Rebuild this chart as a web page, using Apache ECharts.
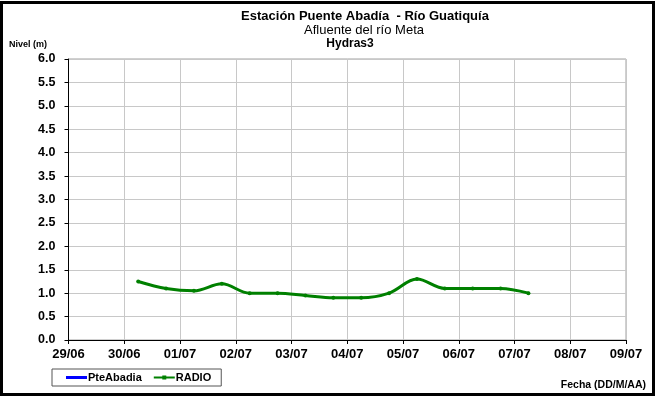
<!DOCTYPE html>
<html>
<head>
<meta charset="utf-8">
<script src="https://cdn.jsdelivr.net/npm/echarts@6/dist/echarts.min.js"></script>
<style>
html,body{margin:0;padding:0;background:#fff;}
#c{width:656px;height:396px;}
</style>
</head>
<body>
<div id="c"></div>
<script>
// ---- data ----
const xTickLabels = ['29/06','30/06','01/07','02/07','03/07','04/07','05/07','06/07','07/07','08/07','09/07'];
const radioTimes = [
  '2014-06-30T06:00','2014-06-30T18:00','2014-07-01T06:00','2014-07-01T18:00',
  '2014-07-02T06:00','2014-07-02T18:00','2014-07-03T06:00','2014-07-03T18:00',
  '2014-07-04T06:00','2014-07-04T18:00','2014-07-05T06:00','2014-07-05T18:00',
  '2014-07-06T06:00','2014-07-06T18:00','2014-07-07T06:00'
];
const radioValues = [1.25, 1.10, 1.05, 1.20, 1.00, 1.00, 0.95, 0.90, 0.90, 1.00, 1.30, 1.10, 1.10, 1.10, 1.00];
const pteAbadiaValues = [];
const yMin = 0, yMax = 6, yStep = 0.5;

const DAY = 86400000;
const xMin = Date.UTC(2014, 5, 29);
const xMax = Date.UTC(2014, 6, 9);
const toMs = s => Date.parse(s + ':00Z');
const radioData = radioTimes.map((t, i) => [toMs(t), radioValues[i]]);

// legend icons (box 21 x 5): tiny corner specks keep both boxes identical
const corners = 'M0,0 L0.01,0 L0,0.01 Z M21,5 L20.99,5 L21,4.99 Z ';
const iconLine = 'path://' + corners + 'M0,1 L21,1 L21,4 L0,4 Z';
const iconLineDot = 'path://' + corners + 'M0,1.5 L21,1.5 L21,3.5 L0,3.5 Z M8.5,0.5 L12.5,0.5 L12.5,4.5 L8.5,4.5 Z';

const FONT = '"Liberation Sans", Arial, sans-serif';
const chart = echarts.init(document.getElementById('c'), null, {renderer: 'canvas'});
chart.setOption({
  backgroundColor: '#ffffff',
  animation: false,
  textStyle: {fontFamily: FONT},
  title: [
    {text: 'Estación Puente Abadía  - Río Guatiquía', left: 365, top: 10, textAlign: 'center',
     textStyle: {fontFamily: FONT, fontSize: 13, fontWeight: 'bold', color: '#000'}, padding: 0},
    {text: 'Afluente del río Meta', left: 364, top: 24, textAlign: 'center',
     textStyle: {fontFamily: FONT, fontSize: 13, fontWeight: 'normal', color: '#000'}, padding: 0},
    {text: 'Hydras3', left: 350, top: 38, textAlign: 'center',
     textStyle: {fontFamily: FONT, fontSize: 12, fontWeight: 'bold', color: '#000'}, padding: 0},
    {text: 'Nivel (m)', left: 9, top: 40,
     textStyle: {fontFamily: FONT, fontSize: 9, fontWeight: 'bold', color: '#000'}, padding: 0},
    {text: 'Fecha (DD/M/AA)', right: 10, top: 380,
     textStyle: {fontFamily: FONT, fontSize: 10.5, fontWeight: 'bold', color: '#000'}, padding: 0}
  ],
  grid: {left: 68.5, right: 30, top: 59, bottom: 56, containLabel: false,
         show: true, borderColor: '#a0a0a0', borderWidth: 1},
  legend: {
    left: 52, top: 369,
    padding: [3, 10, 3, 14],
    itemGap: 12, itemWidth: 21, itemHeight: 5,
    borderColor: '#555', borderWidth: 1,
    textStyle: {fontFamily: FONT, fontSize: 11, fontWeight: 'bold', color: '#000', padding: [0,0,0,-4]},
    data: [
      {name: 'PteAbadia', icon: iconLine, itemStyle: {color: '#0000ff'}},
      {name: 'RADIO', icon: iconLineDot, itemStyle: {color: '#008000'}}
    ]
  },
  xAxis: {
    type: 'value', min: xMin, max: xMax, interval: DAY,
    axisLine: {lineStyle: {color: '#000', width: 1}},
    axisTick: {show: true, length: 4, lineStyle: {color: '#000'}},
    splitLine: {show: true, lineStyle: {color: '#c8c8c8', width: 1}},
    axisLabel: {
      margin: 8, color: '#000', fontFamily: FONT, fontSize: 13, fontWeight: 'bold',
      formatter: v => xTickLabels[Math.round((v - xMin) / DAY)] || ''
    }
  },
  yAxis: {
    type: 'value', min: yMin, max: yMax, interval: yStep,
    axisLine: {show: true, lineStyle: {color: '#000', width: 1}},
    axisTick: {show: true, length: 4, lineStyle: {color: '#000'}},
    splitLine: {show: true, lineStyle: {color: '#c8c8c8', width: 1}},
    axisLabel: {
      margin: 13, color: '#000', fontFamily: FONT, fontSize: 12.5, fontWeight: 'bold',
      formatter: v => v.toFixed(1)
    }
  },
  series: [
    {name: 'PteAbadia', type: 'line', data: pteAbadiaValues, symbol: 'none',
     itemStyle: {color: '#0000ff'}, lineStyle: {color: '#0000ff', width: 3}},
    {name: 'RADIO', type: 'line', data: radioData, smooth: 0.35,
     symbol: 'circle', symbolSize: 4,
     itemStyle: {color: '#008000'}, lineStyle: {color: '#008000', width: 3}}
  ],
  graphic: [
    {type: 'rect', shape: {x: 1.5, y: 2.5, width: 652, height: 392},
     style: {fill: null, stroke: '#000', lineWidth: 3}, silent: true, z: 100}
  ]
});
</script>
</body>
</html>
